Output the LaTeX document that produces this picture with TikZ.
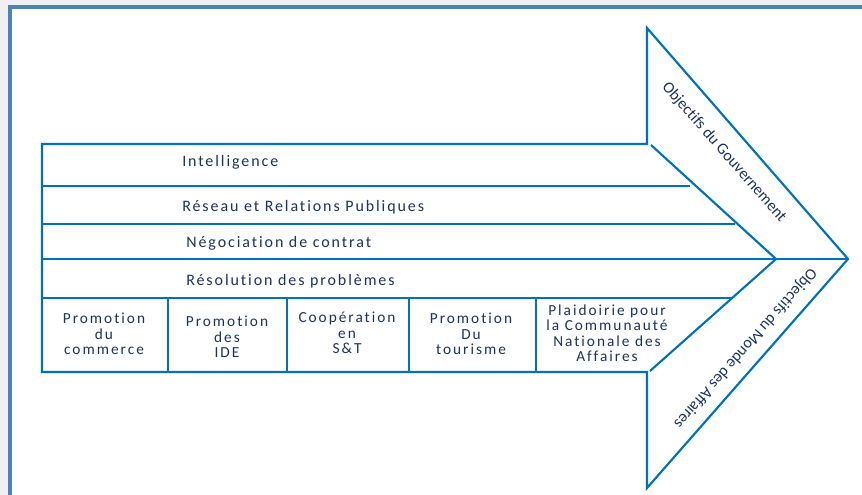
\documentclass[tikz,border=0pt]{standalone}
\usepackage{fontspec}
\setmainfont{Carlito}[Ligatures=NoCommon]
\newfontfamily\widefont[LetterSpace=12,Ligatures=NoCommon]{Carlito}
\newfontfamily\cellfont[LetterSpace=13,Ligatures=NoCommon]{Carlito}
\definecolor{arrowblue}{HTML}{0070C0}
\definecolor{frameblue}{HTML}{4F81BD}
\definecolor{txtnavy}{HTML}{1B3360}
\begin{document}
\begin{tikzpicture}[x=0.75pt,y=-0.75pt]
\tikzset{edge/.style={draw=arrowblue, line width=1.6pt, line join=miter},
    rowlbl/.style={anchor=west, text=txtnavy, inner sep=0pt,
        font=\widefont\fontsize{12}{14}\selectfont},
    cell/.style={align=center, text=txtnavy, inner sep=0pt,
        font=\cellfont\fontsize{11.5}{11.6}\selectfont},
    objlbl/.style={text=txtnavy, inner sep=0pt, font=\fontsize{12}{14}\selectfont}}
\useasboundingbox (0,0) rectangle (862,495);

% page frame
\fill[gray!12] (0,0) rectangle (862,495);
\fill[white] (10,7) rectangle (870,500);
\draw[frameblue, line width=3pt] (10,500) -- (10,7) -- (870,7);

% arrow outline
\coordinate (tl) at (42,144);
\coordinate (nt) at (647,144);
\coordinate (top) at (647,28);
\coordinate (tip) at (848,259);
\coordinate (bot) at (647,488);
\coordinate (nb) at (647,372);
\coordinate (bl) at (42,372);
\coordinate (it) at (651,145);
\coordinate (itip) at (776,259);
\coordinate (ib) at (650,371);
\draw[edge] (tl) -- (nt) -- (top) -- (tip) -- (bot) -- (nb) -- (bl) -- cycle;
\draw[edge] (it) -- (itip) -- (ib);

% rows
\draw[edge] (42,186) -- (690,186);
\draw[edge] (42,224) -- (735,224);
\draw[edge] (42,259) -- (itip) -- (tip);
\draw[edge] (42,298) -- (733,298);
\foreach \x in {168,287,409,536}
    \draw[edge] (\x,298) -- (\x,372);

\node[rowlbl] (intel) at (182,162) {Intelligence};
\node[rowlbl] (reseau) at (182,207) {Réseau et Relations Publiques};
\node[rowlbl] (nego) at (186,243) {Négociation de contrat};
\node[rowlbl] (resol) at (186,281) {Résolution des problèmes};

\node[cell] (commerce) at (104,334) {Promotion\\du\\commerce};
\node[cell] (ide) at (227,337) {Promotion\\des\\IDE};
\node[cell] (coop) at (347,333) {Coopération\\en\\S\&T};
\node[cell] (tourisme) at (471,334) {Promotion\\Du\\tourisme};
\node[cell] (plaid) at (607,333) {Plaidoirie pour\\la Communauté\\Nationale des\\Affaires};

% objectives along the arrow head
\node[objlbl, rotate=-48.8] (gouv) at (724,152) {Objectifs du Gouvernement};
\node[objlbl, rotate=-131.2] (monde) at (745,348) {Objectifs du Monde des Affaires};
\end{tikzpicture}
\end{document}
